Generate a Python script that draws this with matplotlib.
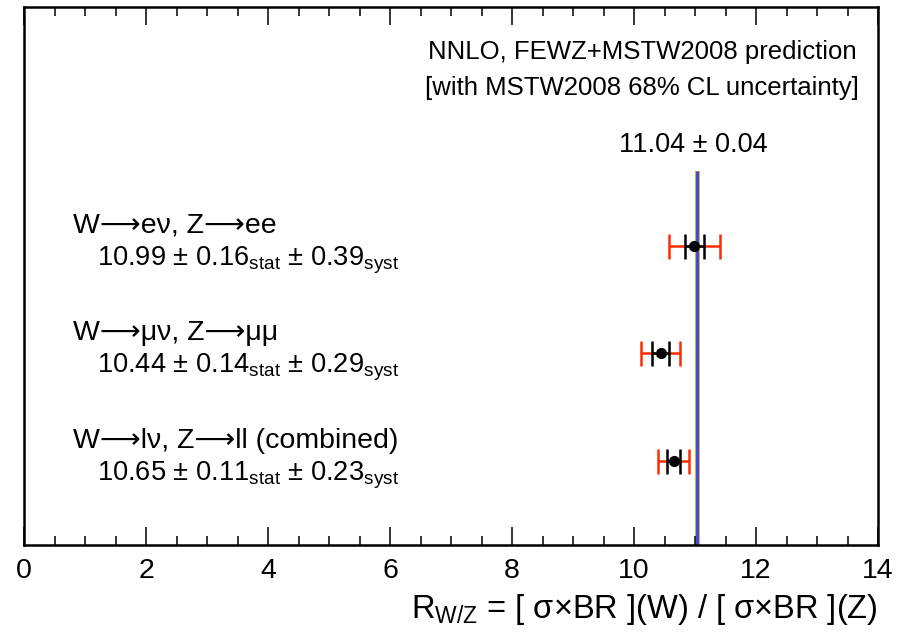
import numpy as np
import matplotlib
matplotlib.use("Agg")
import matplotlib.pyplot as plt
from matplotlib.ticker import MultipleLocator

plt.rcParams["font.family"] = ["Liberation Sans", "DejaVu Sans"]
plt.rcParams["mathtext.fontset"] = "custom"
plt.rcParams["mathtext.rm"] = "Liberation Sans"
plt.rcParams["mathtext.it"] = "Liberation Sans:italic"

# measurements
channels = ["W\u27f6e\u03bd, Z\u27f6ee", "W\u27f6\u03bc\u03bd, Z\u27f6\u03bc\u03bc",
            "W\u27f6l\u03bd, Z\u27f6ll (combined)"]
meas = np.array([10.99, 10.44, 10.65])
stat = np.array([0.16, 0.14, 0.11])
syst = np.array([0.39, 0.29, 0.23])
ypos = np.array([3, 2, 1])

# theory prediction
theo = 11.04
theo_err = 0.04

total = np.sqrt(stat**2 + syst**2)

fig = plt.figure(figsize=(9, 6.32), dpi=100)
ax = fig.add_axes([24 / 900, 87 / 632, 854 / 900, 538 / 632])
ax.set_xlim(0, 14)
ax.set_ylim(0.22, 5.22)

# theory band + central line
ax.fill_betweenx([0.22, 3.70], theo - theo_err, theo + theo_err, color="#f5a623", lw=0)
ax.plot([theo, theo], [0.22, 3.70], color="#1f4bff", lw=2.0, solid_capstyle="butt")
ax.text(theo - 0.07, 3.94, "%.2f \u00b1 %.2f" % (theo, theo_err), ha="center", va="center", fontsize=19.5)

ax.text(10.13, 4.80, "NNLO, FEWZ+MSTW2008 prediction", ha="center", va="center", fontsize=18.5)
ax.text(10.13, 4.47, "[with MSTW2008 68% CL uncertainty]", ha="center", va="center", fontsize=18.5)

for i in range(3):
    ax.errorbar(meas[i], ypos[i], xerr=total[i], fmt="none", ecolor="#ff2a00",
                elinewidth=1.8, capsize=9, capthick=1.8, zorder=3)
    ax.errorbar(meas[i], ypos[i], xerr=stat[i], fmt="o", color="black", ms=7,
                elinewidth=1.8, capsize=9, capthick=1.8, zorder=4)
    ax.text(0.80, ypos[i] + 0.19, channels[i], ha="left", va="center", fontsize=20.5)
    ax.text(1.20, ypos[i] - 0.13,
            "%.2f \u00b1 %.2f$_{\\mathrm{stat}}$ \u00b1 %.2f$_{\\mathrm{syst}}$" % (meas[i], stat[i], syst[i]),
            ha="left", va="center", fontsize=19.6)

ax.xaxis.set_major_locator(MultipleLocator(2))
ax.xaxis.set_minor_locator(MultipleLocator(0.5))
ax.tick_params(axis="x", which="both", direction="in", top=True, bottom=True, width=1.1)
ax.tick_params(axis="x", which="major", length=13, labelsize=20.5, pad=9)
ax.tick_params(axis="x", which="minor", length=6.5)
ax.set_yticks([])
for s in ax.spines.values():
    s.set_linewidth(1.8)

ax.set_xlabel("R$_{\\mathrm{W/Z}}$ = [ \u03c3\u00d7BR ](W) / [ \u03c3\u00d7BR ](Z)", fontsize=23.5)
ax.xaxis.set_label_coords(1.0, -0.088)
ax.xaxis.label.set_ha("right")

fig.savefig("out.png", dpi=100)
